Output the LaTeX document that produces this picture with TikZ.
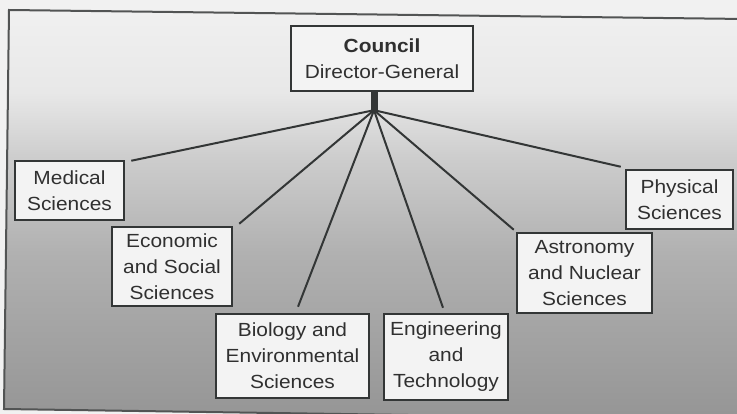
\documentclass[tikz,border=0pt]{standalone}
\usepackage{fontspec}
\setmainfont[FakeStretch=1.1]{Liberation Sans}
\usetikzlibrary{calc}

\definecolor{paper}{HTML}{F1F1F1}
\definecolor{ink}{HTML}{333636}
\definecolor{textink}{HTML}{303030}
\definecolor{boxfill}{HTML}{F3F3F3}
\definecolor{bgA}{HTML}{959595}
\definecolor{bgB}{HTML}{B0B0B0}
\definecolor{bgC}{HTML}{CDCDCD}
\definecolor{bgD}{HTML}{E8E8E8}
\definecolor{bgE}{HTML}{F0F0F0}

% grey wash inside the frame, dark at the foot and fading out towards the top
% (a fitted shading spans 25bp..75bp of its 100bp box)
\pgfdeclareverticalshading{wash}{100bp}{%
  color(0bp)=(bgA); color(25bp)=(bgA); color(45bp)=(bgB); color(57bp)=(bgC);
  color(65bp)=(bgD); color(75bp)=(bgE); color(100bp)=(bgE)}

\tikzset{
  unitbox/.style={draw=ink, line width=2.5pt, fill=boxfill, text=textink,
    align=center, inner sep=0pt,
    font=\fontsize{19}{26}\selectfont},
  hubbox/.style={fill=ink, draw=none, minimum width=7pt, minimum height=19pt,
    inner sep=0pt},
  link/.style={draw=ink, line width=2pt},
  frameline/.style={draw=ink!85, line width=2pt}
}

\begin{document}
\begin{tikzpicture}[x=1pt,y=-1pt]
\useasboundingbox (0,0) rectangle (737,414);
\fill[paper] (0,0) rectangle (737,414);

% framed panel
\shade[shading=wash] (9,10) -- (745,19) -- (745,420) -- (4,409) -- cycle;
\draw[frameline] (745,19) -- (9,10) -- (4,409) -- (745,420);

% junction under the council box
\node[hubbox] (hub) at (374,100.5) {};

% boxes
\node[unitbox, minimum width=182pt, minimum height=65pt] (council) at (382,58.5)
  {\textbf{Council}\\Director-General};
\node[unitbox, minimum width=109pt, minimum height=59pt] (med) at (69.5,190.5)
  {Medical\\Sciences};
\node[unitbox, minimum width=120pt, minimum height=79pt] (eco) at (172,266.5)
  {Economic\\and Social\\Sciences};
\node[unitbox, minimum width=153pt, minimum height=84pt] (bio) at (292.5,356)
  {Biology and\\Environmental\\Sciences};
\node[unitbox, minimum width=124pt, minimum height=86pt] (eng) at (446,357)
  {Engineering\\and\\Technology};
\node[unitbox, minimum width=135pt, minimum height=80pt] (ast) at (584.5,273)
  {Astronomy\\and Nuclear\\Sciences};
\node[unitbox, minimum width=107pt, minimum height=59pt] (phy) at (679.5,199.5)
  {Physical\\Sciences};

% connectors fanning out from the junction
\draw[link] (hub.south) -- ($(med.north east)+(6,1)$);
\draw[link] (hub.south) -- ($(eco.north east)+(6,-2)$);
\draw[link] (hub.south) -- ($(bio.north)+(5.5,-6)$);
\draw[link] (hub.south) -- ($(eng.north)+(-3,-5)$);
\draw[link] (hub.south) -- ($(ast.north west)+(-2,-2)$);
\draw[link] (hub.south) -- ($(phy.north west)+(-4,-2)$);
\end{tikzpicture}
\end{document}
